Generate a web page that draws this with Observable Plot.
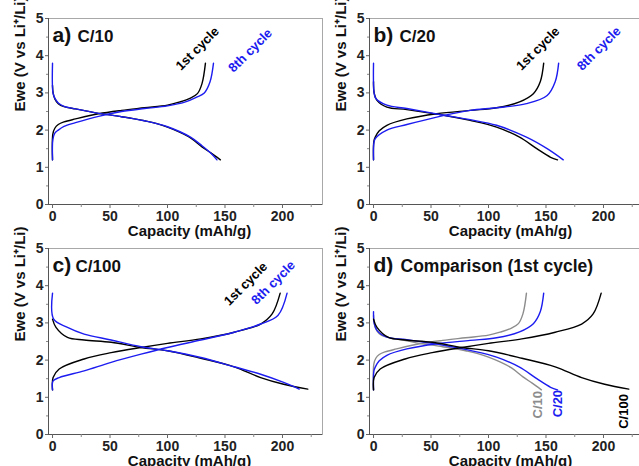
<!DOCTYPE html>
<html><head><meta charset="utf-8">
<script src="https://cdn.jsdelivr.net/npm/d3@7"></script>
<script src="https://cdn.jsdelivr.net/npm/@observablehq/plot@0.6"></script>
<style>
html,body{margin:0;padding:0;background:#fff;overflow:hidden;}
#wrap{position:relative;width:639px;height:466px;overflow:hidden;background:#fff;}
#wrap svg{position:absolute;}
</style></head><body><div id="wrap"></div>
<script>
// ---- data: [capacity mAh/g, voltage V] ----
// C/10
const c10Cycle1Discharge = [[0,3.2],[0.5,3.0],[2,2.84],[5,2.71],[10,2.63],[20,2.57],[30,2.51],[40,2.45],[50,2.41],[60,2.36],[70,2.31],[80,2.25],[90,2.18],[100,2.08],[110,1.95],[120,1.79],[130,1.55],[138,1.38],[146,1.2]];
const c10Cycle1Charge = [[0,1.2],[0.3,1.9],[2,2.05],[5,2.15],[10,2.22],[20,2.3],[40,2.44],[60,2.53],[80,2.6],[100,2.67],[110,2.75],[120,2.86],[126,2.98],[130,3.25],[133,3.8]];
const c10Cycle8Discharge = [[0,3.8],[0.4,3.0],[2,2.86],[5,2.73],[10,2.64],[20,2.57],[40,2.45],[60,2.36],[80,2.25],[100,2.09],[120,1.81],[130,1.58],[138,1.37],[143,1.2]];
const c10Cycle8Charge = [[0,1.2],[0.3,1.75],[2,1.92],[5,2.0],[10,2.1],[20,2.2],[40,2.37],[60,2.5],[80,2.58],[100,2.65],[115,2.75],[125,2.88],[132,3.0],[137,3.3],[140,3.8]];
// C/20
const c20Cycle1Discharge = [[0,3.3],[0.5,3.0],[3,2.8],[11.6,2.62],[29,2.55],[61,2.4],[84,2.26],[107,2.08],[127,1.81],[142,1.5],[154,1.27],[160,1.2]];
const c20Cycle1Charge = [[0,1.2],[0.3,1.7],[1.5,1.81],[5,1.98],[11.6,2.13],[29,2.3],[55,2.44],[84,2.53],[107,2.6],[127,2.76],[139,2.98],[145,3.3],[148,3.8]];
const c20Cycle8Discharge = [[0,3.8],[0.5,3.0],[2,2.85],[11.6,2.67],[29,2.58],[61,2.4],[84,2.28],[107,2.13],[133,1.81],[151,1.5],[165,1.2]];
const c20Cycle8Charge = [[0,1.2],[0.3,1.65],[1.5,1.77],[11.6,2.0],[29,2.15],[55,2.35],[84,2.53],[107,2.6],[133,2.71],[151,2.93],[158,3.3],[161,3.8]];
// C/100
const c100Cycle1Discharge = [[0,3.1],[3,2.88],[13,2.61],[27.5,2.54],[51,2.48],[77,2.34],[100,2.25],[129,2.05],[158,1.82],[181,1.53],[201,1.35],[222,1.22]];
const c100Cycle1Charge = [[0,1.2],[0.5,1.53],[5.8,1.76],[27.5,2.03],[51,2.2],[77,2.34],[100,2.45],[129,2.57],[158,2.75],[181,2.97],[191,3.24],[198,3.8]];
const c100Cycle8Discharge = [[0,3.8],[1,3.1],[13,2.88],[27.5,2.7],[51,2.54],[77,2.36],[100,2.25],[129,2.07],[158,1.82],[181,1.62],[201,1.4],[214.5,1.22]];
const c100Cycle8Charge = [[0,1.2],[0.5,1.44],[5.8,1.53],[27.5,1.71],[51,1.94],[77,2.16],[100,2.34],[129,2.54],[158,2.75],[181,2.97],[196,3.2],[204,3.8]];

// ticks
const xTicks = [0,50,100,150,200];
const xMinorTicks = [25,75,125,175,225];
const yTicks = [0,1,2,3,4,5];
const yMinorTicks = [0.5,1.5,2.5,3.5,4.5];
const xDomain = [-3.5, 234.8];
const yDomain = [0, 5];

// labels
const panelLetters = ["a)", "b)", "c)", "d)"];
const panelTitles = ["C/10", "C/20", "C/100", "Comparison (1st cycle)"];
const cycleLabels = ["1st cycle", "8th cycle"];
const rateLabels = ["C/10", "C/20", "C/100"];
const xLabel = "Capacity (mAh/g)";
const yLabel = "Ewe (V vs Li\u207A/Li)";

const BLACK = "#000000", BLUE = "#1c1cf0", GRAY = "#8c8c8c";
const FONT = "'Liberation Sans', Arial, Helvetica, sans-serif";

function panel({curves, letter, title, titleSize, titleDx, titleSpacing, labels, labelRotate, left, top}) {
  const marks = [
    Plot.frame({stroke: "#a8a8a8", strokeWidth: 1}),
    Plot.ruleX([xDomain[0]], {stroke: "#555", strokeWidth: 1}),
    Plot.ruleY([yDomain[0]], {stroke: "#555", strokeWidth: 1}),
    Plot.axisX(xTicks, {tickSize: 4, tickPadding: 3, fontSize: 14, fontWeight: "bold", label: null, stroke: "#666", fill: "#222"}),
    Plot.axisX(xMinorTicks, {tickSize: 3, tickFormat: () => "", label: null, stroke: "#888"}),
    Plot.axisY(yTicks, {tickSize: 3, tickPadding: 2, fontSize: 14, fontWeight: "bold", label: null, stroke: "#666", fill: "#222"}),
    Plot.axisY(yMinorTicks, {tickSize: 2, tickFormat: () => "", label: null, stroke: "#888"}),
    ...curves.map(c => Plot.line(c.data, {x: d => d[0], y: d => d[1], stroke: c.color, strokeWidth: 1.4, curve: "catmull-rom"})),
    Plot.text([letter], {frameAnchor: "top-left", dx: 4, dy: 17, fontSize: 21, fontWeight: "bold", textAnchor: "start", lineAnchor: "middle", fill: "#111"}),
    Plot.text([title], {frameAnchor: "top-left", dx: titleDx, dy: 18, fontSize: titleSize, fontWeight: "bold", textAnchor: "start", lineAnchor: "middle", fill: "#111", style: `letter-spacing:${titleSpacing}px`}),
    Plot.text([xLabel], {frameAnchor: "bottom", dx: 4, dy: 27, fontSize: 15, fontWeight: "bold", lineAnchor: "middle", fill: "#111"}),
    Plot.text([yLabel], {frameAnchor: "left", dx: -28, rotate: -90, fontSize: 15, fontWeight: "bold", lineAnchor: "middle", fill: "#111"}),
    Plot.text(labels, {x: "x", y: "y", text: "text", fill: "color", rotate: labelRotate, fontSize: 13, fontWeight: "bold", lineAnchor: "middle"})
  ];
  const svg = Plot.plot({
    width: 330, height: 240,
    marginLeft: 48, marginTop: 18, marginRight: 8, marginBottom: 36,
    x: {domain: xDomain},
    y: {domain: yDomain},
    style: {fontFamily: FONT, background: "transparent", overflow: "visible", maxWidth: "none"},
    marks
  });
  svg.style.left = left + "px";
  svg.style.top = top + "px";
  document.getElementById("wrap").appendChild(svg);
}

panel({
  curves: [
    {data: c10Cycle1Charge, color: BLACK}, {data: c10Cycle1Discharge, color: BLACK},
    {data: c10Cycle8Charge, color: BLUE}, {data: c10Cycle8Discharge, color: BLUE}
  ],
  letter: panelLetters[0], title: panelTitles[0], titleSize: 17, titleDx: 29, titleSpacing: 0.3,
  labels: [{x: 126, y: 4.19, text: cycleLabels[0], color: BLACK}, {x: 172, y: 4.14, text: cycleLabels[1], color: BLUE}],
  labelRotate: -45, left: 0, top: 0
});
panel({
  curves: [
    {data: c20Cycle1Charge, color: BLACK}, {data: c20Cycle1Discharge, color: BLACK},
    {data: c20Cycle8Charge, color: BLUE}, {data: c20Cycle8Discharge, color: BLUE}
  ],
  letter: panelLetters[1], title: panelTitles[1], titleSize: 17, titleDx: 30, titleSpacing: 0.3,
  labels: [{x: 143, y: 4.19, text: cycleLabels[0], color: BLACK}, {x: 196, y: 4.19, text: cycleLabels[1], color: BLUE}],
  labelRotate: -45, left: 321, top: 0
});
panel({
  curves: [
    {data: c100Cycle1Charge, color: BLACK}, {data: c100Cycle1Discharge, color: BLACK},
    {data: c100Cycle8Charge, color: BLUE}, {data: c100Cycle8Discharge, color: BLUE}
  ],
  letter: panelLetters[2], title: panelTitles[2], titleSize: 17, titleDx: 27, titleSpacing: 0.3,
  labels: [{x: 168, y: 4.05, text: cycleLabels[0], color: BLACK}, {x: 192, y: 4.08, text: cycleLabels[1], color: BLUE}],
  labelRotate: -45, left: 0, top: 230
});
panel({
  curves: [
    {data: c10Cycle1Charge, color: GRAY}, {data: c10Cycle1Discharge, color: GRAY},
    {data: c20Cycle1Charge, color: BLUE}, {data: c20Cycle1Discharge, color: BLUE},
    {data: c100Cycle1Charge, color: BLACK}, {data: c100Cycle1Discharge, color: BLACK}
  ],
  letter: panelLetters[3], title: panelTitles[3], titleSize: 17.5, titleDx: 31, titleSpacing: 0.8,
  labels: [{x: 143, y: 0.8, text: rateLabels[0], color: GRAY}, {x: 160, y: 0.83, text: rateLabels[1], color: BLUE}, {x: 218, y: 0.62, text: rateLabels[2], color: BLACK}],
  labelRotate: -90, left: 321, top: 230
});
</script>
</body></html>
